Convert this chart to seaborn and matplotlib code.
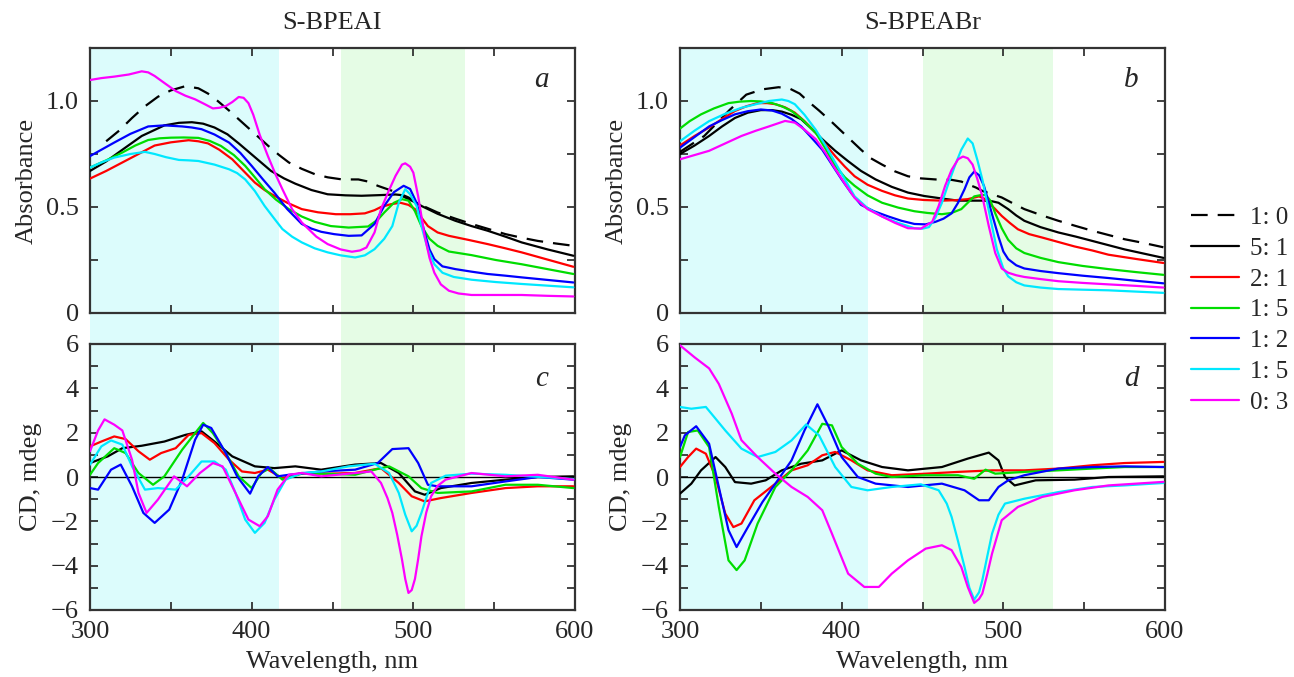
import numpy as np
import pandas as pd
import matplotlib
matplotlib.use("Agg")
import matplotlib.pyplot as plt
import matplotlib.transforms as mtransforms
from matplotlib.ticker import MultipleLocator, FixedLocator, FixedFormatter
import seaborn as sns

# ---------------- data ----------------
series_labels = ["1: 0", "5: 1", "2: 1", "1: 5", "1: 2", "1: 5 ", "0: 3"]
series_colors = ["black", "black", "#ff0000", "#00dd00", "#0000ff", "#00e8ff", "#ff00ff"]

# Panel a: absorbance, S-BPEAI
a_wl_10 = [310, 318, 326, 334, 342, 350, 359, 367, 373, 379, 386, 394, 402, 410, 417, 423, 431, 439, 447, 456, 466, 472, 478, 487, 497, 506, 515, 526, 536, 547, 557, 567, 577, 588, 599]
a_ab_10 = [0.81, 0.86, 0.92, 0.975, 1.02, 1.05, 1.07, 1.06, 1.035, 1.00, 0.955, 0.90, 0.845, 0.79, 0.745, 0.71, 0.68, 0.655, 0.64, 0.63, 0.63, 0.62, 0.60, 0.576, 0.537, 0.505, 0.474, 0.445, 0.42, 0.395, 0.372, 0.355, 0.34, 0.328, 0.317]
a_wl_51 = [300, 310, 320, 332, 346, 355, 363, 370, 377, 385, 392, 402, 412, 420, 427, 437, 447, 458, 468, 479, 489, 494, 497, 501, 505, 515, 526, 536, 546, 557, 567, 583, 599]
a_ab_51 = [0.67, 0.715, 0.77, 0.835, 0.885, 0.897, 0.90, 0.893, 0.875, 0.843, 0.80, 0.735, 0.67, 0.635, 0.61, 0.58, 0.56, 0.555, 0.553, 0.556, 0.559, 0.555, 0.545, 0.525, 0.505, 0.468, 0.435, 0.41, 0.388, 0.36, 0.333, 0.30, 0.27]
a_wl_21 = [300, 310, 320, 330, 340, 350, 361, 367, 373, 380, 388, 395, 402, 408, 414, 422, 431, 441, 452, 461, 470, 476, 480, 486, 492, 497, 501, 505, 509, 515, 522, 534, 546, 557, 567, 583, 599]
a_ab_21 = [0.634, 0.67, 0.71, 0.75, 0.79, 0.805, 0.815, 0.81, 0.80, 0.77, 0.725, 0.67, 0.615, 0.58, 0.553, 0.52, 0.49, 0.475, 0.466, 0.466, 0.47, 0.485, 0.50, 0.513, 0.52, 0.51, 0.49, 0.45, 0.41, 0.38, 0.364, 0.345, 0.325, 0.305, 0.286, 0.252, 0.218]
a_wl_15 = [300, 310, 320, 328, 336, 343, 350, 358, 367, 374, 381, 389, 396, 402, 408, 415, 423, 431, 439, 449, 460, 472, 478, 482, 488, 493, 497, 501, 505, 510, 515, 522, 536, 551, 567, 583, 599]
a_ab_15 = [0.686, 0.72, 0.757, 0.79, 0.816, 0.824, 0.827, 0.828, 0.826, 0.812, 0.788, 0.745, 0.694, 0.64, 0.584, 0.535, 0.49, 0.455, 0.43, 0.41, 0.403, 0.408, 0.44, 0.474, 0.52, 0.537, 0.53, 0.48, 0.41, 0.35, 0.317, 0.29, 0.273, 0.25, 0.23, 0.207, 0.184]
a_wl_12 = [300, 307, 315, 325, 336, 346, 357, 363, 369, 377, 386, 393, 400, 407, 414, 422, 431, 437, 443, 451, 460, 468, 476, 482, 488, 494, 498, 502, 507, 510, 513, 518, 526, 536, 546, 557, 567, 583, 599]
a_ab_12 = [0.74, 0.77, 0.804, 0.845, 0.88, 0.885, 0.88, 0.875, 0.867, 0.842, 0.804, 0.755, 0.694, 0.63, 0.568, 0.49, 0.42, 0.398, 0.383, 0.372, 0.364, 0.366, 0.42, 0.505, 0.57, 0.60, 0.585, 0.52, 0.38, 0.30, 0.254, 0.22, 0.207, 0.195, 0.184, 0.176, 0.168, 0.156, 0.144]
a_wl_15b = [300, 307, 315, 325, 334, 340, 347, 355, 361, 367, 377, 386, 391, 396, 402, 408, 414, 419, 425, 431, 439, 447, 455, 464, 470, 476, 482, 487, 491, 495, 498, 502, 505, 509, 513, 518, 525, 536, 551, 567, 583, 599]
a_ab_15b = [0.686, 0.71, 0.733, 0.75, 0.76, 0.75, 0.735, 0.722, 0.72, 0.717, 0.70, 0.678, 0.66, 0.63, 0.575, 0.505, 0.445, 0.396, 0.36, 0.333, 0.305, 0.286, 0.272, 0.262, 0.272, 0.301, 0.35, 0.41, 0.52, 0.584, 0.56, 0.505, 0.41, 0.30, 0.23, 0.19, 0.17, 0.157, 0.146, 0.137, 0.129, 0.121]
a_wl_03 = [300, 307, 315, 324, 332, 336, 340, 346, 353, 359, 365, 371, 376, 380, 384, 388, 392, 395, 398, 401, 405, 410, 415, 419, 425, 431, 440, 447, 455, 462, 467, 471, 476, 480, 485, 489, 493, 495, 498, 500, 503, 507, 510, 513, 517, 522, 528, 536, 551, 567, 583, 599]
a_ab_03 = [1.099, 1.108, 1.115, 1.125, 1.14, 1.135, 1.118, 1.085, 1.047, 1.025, 1.008, 0.985, 0.965, 0.968, 0.976, 0.995, 1.019, 1.015, 0.99, 0.935, 0.84, 0.741, 0.65, 0.584, 0.49, 0.427, 0.36, 0.325, 0.30, 0.289, 0.295, 0.309, 0.38, 0.49, 0.58, 0.647, 0.70, 0.706, 0.69, 0.662, 0.55, 0.364, 0.26, 0.19, 0.135, 0.105, 0.092, 0.085, 0.085, 0.085, 0.081, 0.078]

# Panel b: absorbance, S-BPEABr
b_wl_10 = [300, 315, 331, 341, 351, 361, 368, 374, 379, 386, 394, 403, 412, 418, 425, 433, 441, 449, 458, 468, 474, 478, 483, 487, 493, 499, 506, 513, 524, 534, 545, 555, 565, 575, 587, 599]
b_ab_10 = [0.76, 0.835, 0.96, 1.03, 1.055, 1.065, 1.058, 1.035, 1.0, 0.955, 0.90, 0.835, 0.77, 0.73, 0.70, 0.668, 0.645, 0.635, 0.63, 0.628, 0.62, 0.607, 0.592, 0.576, 0.56, 0.545, 0.517, 0.49, 0.46, 0.435, 0.41, 0.388, 0.368, 0.348, 0.33, 0.31]
b_wl_51 = [300, 309, 318, 326, 334, 342, 350, 357, 363, 369, 375, 381, 388, 396, 404, 412, 421, 431, 441, 451, 462, 472, 480, 487, 493, 497, 500, 503, 508, 513, 523, 534, 545, 555, 565, 575, 587, 599]
b_ab_51 = [0.75, 0.79, 0.835, 0.88, 0.92, 0.945, 0.957, 0.957, 0.95, 0.935, 0.914, 0.872, 0.82, 0.765, 0.716, 0.67, 0.63, 0.595, 0.568, 0.552, 0.54, 0.53, 0.53, 0.53, 0.527, 0.52, 0.505, 0.49, 0.46, 0.435, 0.405, 0.38, 0.36, 0.34, 0.32, 0.30, 0.28, 0.26]
b_wl_21 = [300, 309, 318, 326, 334, 341, 348, 354, 359, 365, 371, 377, 384, 390, 396, 402, 408, 416, 425, 433, 441, 451, 462, 470, 478, 485, 488, 491, 495, 499, 504, 509, 516, 524, 534, 544, 555, 565, 582, 599]
b_ab_21 = [0.79, 0.835, 0.875, 0.915, 0.953, 0.975, 0.99, 0.99, 0.985, 0.97, 0.945, 0.905, 0.85, 0.795, 0.74, 0.69, 0.645, 0.605, 0.576, 0.555, 0.54, 0.533, 0.53, 0.532, 0.537, 0.55, 0.54, 0.52, 0.49, 0.458, 0.425, 0.395, 0.372, 0.356, 0.335, 0.314, 0.295, 0.275, 0.255, 0.236]
b_wl_15 = [300, 306, 313, 321, 330, 337, 344, 350, 357, 363, 369, 376, 384, 390, 396, 402, 408, 416, 425, 435, 445, 453, 462, 468, 474, 478, 482, 486, 489, 492, 495, 499, 503, 508, 513, 523, 534, 549, 565, 582, 599]
b_ab_15 = [0.87, 0.905, 0.937, 0.965, 0.99, 0.997, 1.0, 0.998, 0.99, 0.975, 0.953, 0.91, 0.85, 0.775, 0.694, 0.64, 0.60, 0.555, 0.52, 0.497, 0.48, 0.472, 0.466, 0.472, 0.49, 0.52, 0.55, 0.556, 0.557, 0.53, 0.47, 0.40, 0.345, 0.305, 0.283, 0.26, 0.24, 0.222, 0.207, 0.193, 0.18]
b_wl_12 = [300, 309, 318, 326, 334, 342, 350, 357, 363, 369, 375, 381, 388, 394, 400, 406, 412, 420, 429, 437, 445, 452, 458, 463, 468, 472, 476, 479, 482, 485, 488, 491, 494, 497, 500, 503, 508, 513, 523, 534, 549, 565, 582, 599]
b_ab_12 = [0.78, 0.83, 0.88, 0.91, 0.937, 0.952, 0.96, 0.955, 0.94, 0.915, 0.88, 0.83, 0.77, 0.70, 0.63, 0.565, 0.51, 0.48, 0.455, 0.435, 0.42, 0.418, 0.43, 0.445, 0.47, 0.52, 0.584, 0.64, 0.667, 0.65, 0.60, 0.52, 0.44, 0.36, 0.29, 0.254, 0.225, 0.21, 0.198, 0.188, 0.176, 0.165, 0.152, 0.14]
b_wl_15b = [300, 309, 318, 328, 338, 347, 355, 363, 367, 371, 377, 384, 390, 396, 402, 408, 416, 425, 435, 445, 450, 454, 458, 462, 466, 470, 474, 478, 481, 484, 487, 490, 493, 496, 500, 503, 508, 513, 523, 534, 549, 565, 582, 599]
b_ab_15b = [0.81, 0.86, 0.905, 0.94, 0.968, 0.985, 1.0, 1.007, 1.0, 0.985, 0.935, 0.864, 0.79, 0.71, 0.63, 0.55, 0.495, 0.455, 0.425, 0.40, 0.398, 0.405, 0.45, 0.52, 0.61, 0.694, 0.77, 0.823, 0.80, 0.72, 0.63, 0.52, 0.41, 0.30, 0.21, 0.173, 0.145, 0.13, 0.12, 0.113, 0.11, 0.107, 0.101, 0.095]
b_wl_03 = [300, 309, 318, 328, 338, 347, 355, 360, 365, 371, 377, 384, 390, 396, 402, 408, 416, 425, 433, 441, 449, 456, 460, 464, 468, 472, 475, 478, 481, 484, 487, 491, 495, 499, 503, 508, 513, 523, 534, 549, 565, 582, 599]
b_ab_03 = [0.725, 0.745, 0.765, 0.80, 0.835, 0.86, 0.88, 0.893, 0.906, 0.898, 0.865, 0.82, 0.755, 0.68, 0.61, 0.543, 0.49, 0.455, 0.425, 0.40, 0.398, 0.43, 0.505, 0.60, 0.675, 0.725, 0.738, 0.73, 0.70, 0.63, 0.55, 0.41, 0.283, 0.21, 0.19, 0.178, 0.17, 0.16, 0.15, 0.142, 0.135, 0.128, 0.12]

# Panel c: CD, S-BPEAI
c_wl_51 = [300, 311, 320, 332, 346, 359, 369, 377, 388, 402, 414, 427, 443, 464, 480, 491, 501, 507, 517, 536, 557, 577, 599]
c_cd_51 = [0.63, 0.93, 1.3, 1.41, 1.6, 1.9, 2.06, 1.6, 0.93, 0.48, 0.4, 0.48, 0.33, 0.56, 0.63, 0.18, -0.65, -0.8, -0.5, -0.27, -0.12, 0.0, 0.03]
c_wl_21 = [300, 307, 315, 322, 330, 337, 344, 353, 361, 369, 377, 386, 394, 402, 410, 419, 431, 447, 464, 480, 491, 499, 507, 517, 536, 557, 577, 599]
c_cd_21 = [1.38, 1.6, 1.83, 1.71, 1.16, 0.78, 1.08, 1.3, 1.9, 1.98, 1.53, 0.78, 0.25, 0.18, 0.33, -0.05, 0.18, 0.15, 0.18, 0.4, -0.27, -0.87, -1.1, -0.95, -0.72, -0.5, -0.42, -0.42]
c_wl_15 = [300, 305, 315, 322, 330, 339, 346, 357, 365, 370, 376, 384, 392, 400, 406, 411, 419, 431, 447, 464, 476, 485, 497, 505, 515, 536, 557, 577, 599]
c_cd_15 = [0.1, 0.63, 1.3, 1.08, 0.18, -0.35, 0.03, 1.23, 1.98, 2.44, 1.98, 1.08, 0.03, -0.5, 0.18, 0.4, -0.12, 0.15, 0.15, 0.1, 0.33, 0.48, 0.03, -0.5, -0.72, -0.65, -0.35, -0.35, -0.5]
c_wl_12 = [300, 305, 313, 319, 326, 333, 340, 349, 357, 365, 370, 375, 384, 391, 399, 404, 410, 416, 423, 443, 464, 478, 487, 497, 503, 509, 515, 536, 557, 577, 599]
c_cd_12 = [-0.5, -0.57, 0.33, 0.56, -0.42, -1.62, -2.07, -1.47, -0.12, 1.68, 2.36, 2.21, 1.08, 0.03, -0.75, 0.03, 0.45, 0.03, 0.1, 0.25, 0.33, 0.63, 1.26, 1.3, 0.63, -0.35, -0.42, -0.42, -0.2, 0.0, -0.12]
c_wl_15b = [300, 307, 313, 320, 326, 334, 342, 353, 361, 369, 377, 384, 390, 396, 402, 408, 414, 421, 431, 443, 460, 476, 485, 491, 495, 499, 502, 505, 511, 520, 536, 557, 599]
c_cd_15b = [0.56, 1.38, 1.65, 1.46, 0.48, -0.57, -0.5, -0.57, 0.03, 0.7, 0.7, 0.33, -0.72, -1.92, -2.52, -2.07, -1.02, -0.12, 0.18, 0.25, 0.48, 0.6, 0.18, -0.72, -1.7, -2.45, -2.2, -1.62, -0.27, 0.06, 0.15, 0.1, -0.09]
c_wl_03 = [300, 305, 309, 315, 320, 326, 330, 335, 342, 352, 360, 368, 376, 382, 390, 398, 405, 410, 416, 423, 431, 443, 460, 474, 480, 484, 487, 490, 493, 495, 497, 499, 501, 503, 505, 508, 511, 515, 520, 536, 557, 577, 599]
c_cd_03 = [1.16, 2.1, 2.6, 2.36, 2.1, 0.78, -0.72, -1.62, -1.02, 0.03, -0.42, 0.18, 0.63, 0.48, -0.72, -1.92, -2.22, -1.77, -0.57, 0.1, 0.18, 0.03, 0.15, 0.25, -0.27, -0.95, -1.62, -2.6, -3.73, -4.6, -5.23, -5.1, -4.6, -3.7, -2.68, -1.6, -0.87, -0.4, -0.12, 0.18, 0.03, 0.1, -0.12]

# Panel d: CD, S-BPEABr
d_wl_51 = [300, 307, 313, 322, 328, 334, 344, 353, 363, 375, 388, 400, 412, 425, 441, 462, 478, 491, 497, 501, 507, 520, 544, 565, 599]
d_cd_51 = [-0.75, -0.3, 0.3, 0.9, 0.45, -0.23, -0.3, -0.15, 0.3, 0.6, 0.75, 1.2, 0.75, 0.45, 0.3, 0.45, 0.83, 1.1, 0.75, 0.0, -0.38, -0.15, -0.12, 0.0, 0.03]
d_wl_21 = [300, 305, 310, 316, 322, 328, 333, 338, 346, 359, 369, 379, 388, 396, 406, 416, 431, 452, 472, 493, 513, 534, 555, 575, 599]
d_cd_21 = [0.45, 0.9, 1.28, 1.05, 0.0, -1.65, -2.26, -2.1, -1.05, -0.3, 0.3, 0.53, 0.98, 1.13, 0.75, 0.3, 0.08, 0.15, 0.23, 0.3, 0.3, 0.38, 0.53, 0.63, 0.68]
d_wl_15 = [300, 305, 311, 318, 324, 330, 335, 340, 348, 359, 369, 379, 388, 394, 400, 410, 421, 431, 452, 472, 482, 489, 495, 513, 534, 555, 575, 599]
d_cd_15 = [0.9, 2.03, 2.1, 1.35, -1.35, -3.76, -4.2, -3.76, -2.1, -0.45, 0.3, 1.2, 2.4, 2.33, 1.35, 0.6, 0.15, 0.0, 0.08, 0.08, -0.08, 0.33, 0.15, 0.23, 0.3, 0.38, 0.45, 0.45]
d_wl_12 = [300, 303, 310, 318, 324, 330, 335, 342, 351, 359, 369, 377, 385, 392, 400, 410, 421, 441, 462, 476, 485, 491, 497, 503, 513, 534, 555, 575, 599]
d_cd_12 = [1.35, 1.88, 2.29, 1.5, -0.45, -2.4, -3.16, -2.26, -1.13, -0.3, 0.75, 2.1, 3.28, 2.26, 0.9, 0.0, -0.3, -0.45, -0.3, -0.6, -1.05, -1.05, -0.45, -0.15, 0.08, 0.38, 0.45, 0.48, 0.45]
d_wl_15b = [300, 307, 316, 328, 338, 348, 359, 369, 378, 386, 396, 406, 416, 431, 449, 460, 465, 468, 472, 476, 479, 482, 485, 487, 490, 493, 497, 501, 513, 534, 555, 575, 599]
d_cd_15b = [3.16, 3.08, 3.16, 2.1, 1.28, 0.9, 1.13, 1.65, 2.37, 1.88, 0.45, -0.45, -0.6, -0.45, -0.33, -0.6, -1.2, -1.8, -2.9, -4.06, -5.0, -5.53, -5.2, -4.66, -3.6, -2.56, -1.7, -1.2, -0.98, -0.68, -0.45, -0.38, -0.27]
d_wl_03 = [300, 309, 318, 324, 332, 338, 348, 359, 369, 379, 388, 394, 404, 414, 423, 431, 441, 452, 462, 468, 474, 478, 482, 485, 487, 490, 493, 499, 509, 524, 544, 565, 599]
d_cd_03 = [5.94, 5.4, 4.9, 4.2, 2.86, 1.66, 0.9, 0.15, -0.45, -0.9, -1.5, -2.56, -4.36, -4.96, -4.96, -4.36, -3.76, -3.23, -3.08, -3.3, -4.06, -4.96, -5.68, -5.5, -5.26, -4.4, -3.46, -1.95, -1.35, -0.9, -0.6, -0.38, -0.22]

panel_a = [(a_wl_10, a_ab_10), (a_wl_51, a_ab_51), (a_wl_21, a_ab_21), (a_wl_15, a_ab_15),
           (a_wl_12, a_ab_12), (a_wl_15b, a_ab_15b), (a_wl_03, a_ab_03)]
panel_b = [(b_wl_10, b_ab_10), (b_wl_51, b_ab_51), (b_wl_21, b_ab_21), (b_wl_15, b_ab_15),
           (b_wl_12, b_ab_12), (b_wl_15b, b_ab_15b), (b_wl_03, b_ab_03)]
panel_c = [None, (c_wl_51, c_cd_51), (c_wl_21, c_cd_21), (c_wl_15, c_cd_15),
           (c_wl_12, c_cd_12), (c_wl_15b, c_cd_15b), (c_wl_03, c_cd_03)]
panel_d = [None, (d_wl_51, d_cd_51), (d_wl_21, d_cd_21), (d_wl_15, d_cd_15),
           (d_wl_12, d_cd_12), (d_wl_15b, d_cd_15b), (d_wl_03, d_cd_03)]

# shaded spectral bands (nm)
left_bands = [(300, 417, "#dcfcfc"), (455, 532, "#e5fce5")]
right_bands = [(300, 416, "#dcfcfc"), (450, 531, "#e5fce5")]

titles = ["S-BPEAI", "S-BPEABr"]
letters = ["a", "b", "c", "d"]

# ---------------- style ----------------
sns.set_theme(style="ticks")
plt.rcParams["font.family"] = ["Liberation Serif", "DejaVu Serif"]
plt.rcParams["axes.unicode_minus"] = True
FS = 19

fig = plt.figure(figsize=(12.94, 6.77), dpi=100)
L1, L2, W = 90 / 1294, 680 / 1294, 485 / 1294
TOPB, TOPH = 1 - 313 / 677, 265 / 677
BOTB, BOTH = 1 - 610 / 677, 266 / 677
ax_a = fig.add_axes([L1, TOPB, W, TOPH])
ax_b = fig.add_axes([L2, TOPB, W, TOPH])
ax_c = fig.add_axes([L1, BOTB, W, BOTH])
ax_d = fig.add_axes([L2, BOTB, W, BOTH])

def draw(ax, curves, with_label):
    for i, cur in enumerate(curves):
        if cur is None:
            continue
        df = pd.DataFrame({"wl": cur[0], "v": cur[1]})
        ls = (0, (7.5, 4.5)) if i == 0 else "-"
        sns.lineplot(data=df, x="wl", y="v", ax=ax, color=series_colors[i],
                     linewidth=1.6, linestyle=ls, sort=False, estimator=None,
                     label=series_labels[i] if with_label else None, legend=False,
                     zorder=3)

draw(ax_a, panel_a, True)
draw(ax_b, panel_b, False)
draw(ax_c, panel_c, False)
draw(ax_d, panel_d, False)

for ax, bands in [(ax_a, left_bands), (ax_c, left_bands), (ax_b, right_bands), (ax_d, right_bands)]:
    for lo, hi, col in bands:
        ax.axvspan(lo, hi, color=col, lw=0, zorder=0)

# fill the gap between upper and lower panels
for ax, bands in [(ax_c, left_bands), (ax_d, right_bands)]:
    tr = mtransforms.blended_transform_factory(ax.transData, fig.transFigure)
    for lo, hi, col in bands:
        rect = plt.Rectangle((lo, BOTB + BOTH), hi - lo, TOPB - (BOTB + BOTH),
                             transform=tr, color=col, lw=0, clip_on=False, zorder=0)
        fig.add_artist(rect)

for ax in (ax_c, ax_d):
    ax.axhline(0, color="black", lw=1.0, zorder=2)

for ax in (ax_a, ax_b, ax_c, ax_d):
    ax.set_xlim(300, 600)
    ax.xaxis.set_major_locator(MultipleLocator(100))
    ax.xaxis.set_minor_locator(MultipleLocator(50))
    ax.tick_params(which="both", direction="in", top=True, right=True,
                   length=6, width=1.2, labelsize=FS, color="#222222", pad=8)
    for s in ax.spines.values():
        s.set_linewidth(1.6)
        s.set_color("#333333")
    ax.set_xlabel("")
    ax.set_ylabel("")

for ax in (ax_a, ax_b):
    ax.set_ylim(0, 1.25)
    ax.yaxis.set_major_locator(FixedLocator([0, 0.5, 1.0]))
    ax.yaxis.set_major_formatter(FixedFormatter(["0", "0.5", "1.0"]))
    ax.yaxis.set_minor_locator(MultipleLocator(0.25))
    ax.set_xticklabels([])
    ax.set_ylabel("Absorbance", fontsize=FS, labelpad=6)

for ax in (ax_c, ax_d):
    ax.set_ylim(-6, 6)
    ax.yaxis.set_major_locator(MultipleLocator(2))
    ax.yaxis.set_minor_locator(MultipleLocator(1))
    ax.set_ylabel("CD, mdeg", fontsize=FS, labelpad=6)
    ax.set_xlabel("Wavelength, nm", fontsize=FS, labelpad=6)

ax_a.set_title(titles[0], fontsize=FS, pad=14)
ax_b.set_title(titles[1], fontsize=FS, pad=14)

for ax, let, yy in [(ax_a, "a", 0.88), (ax_b, "b", 0.88), (ax_c, "c", 0.87), (ax_d, "d", 0.87)]:
    ax.text(0.93, yy, let, transform=ax.transAxes, fontsize=21, style="italic",
            ha="center", va="center")

handles, labels = ax_a.get_legend_handles_labels()
fig.legend(handles, labels, loc="center left", bbox_to_anchor=(1186 / 1294, 1 - 310 / 677),
           frameon=False, fontsize=18, handlelength=1.9, handletextpad=0.45,
           labelspacing=0.33, borderaxespad=0, borderpad=0.2)

fig.savefig("out.png", dpi=100)
